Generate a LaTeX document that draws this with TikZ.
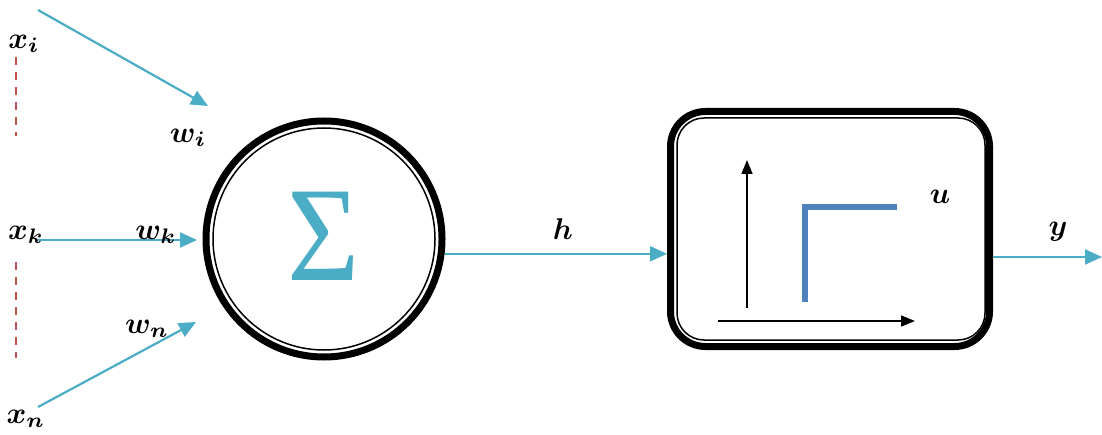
\documentclass[tikz,border=0pt]{standalone}
\usepackage{fontspec}
\newfontfamily\sigfont{Liberation Serif}
\usetikzlibrary{arrows.meta}
\definecolor{teal1}{RGB}{75,172,198}
\definecolor{red1}{RGB}{192,80,77}
\definecolor{blue1}{RGB}{79,129,189}
\newcommand{\biglbl}[1]{\scalebox{3}{\boldmath$#1$}}
\begin{document}
\begin{tikzpicture}[x=1pt,y=-1pt,
  inarrow/.style={teal1, line width=2.2pt, -{Triangle[length=17pt,width=15pt]}},
  axarrow/.style={black, line width=1.5pt, -{Triangle[length=14pt,width=11pt]}},
  lbl/.style={inner sep=0pt},
  dashline/.style={red1, line width=2pt, dash pattern=on 8pt off 7pt}]
\useasboundingbox (0,0) rectangle (1102,435);
% summation node
\node[circle, draw, line width=7pt, minimum size=236pt, inner sep=0pt] (sum) at (324,239) {};
\draw[line width=1.5pt] (sum.center) circle (111pt);
\node[text=teal1, inner sep=0pt] (sig) at (324,236) {\scalebox{0.92}[1]{\sigfont\fontsize{135}{135}\selectfont Σ}};
% activation box
\node[draw, rounded corners=35pt, line width=7pt, minimum width=319pt, minimum height=235pt, inner sep=0pt] (act) at (830,229) {};
\node[draw, rounded corners=27pt, line width=1.5pt, minimum width=308pt, minimum height=222pt, inner sep=0pt] (actin) at (831,229) {};
\coordinate (vax0) at (747,308);
\coordinate (vax1) at (747,160);
\coordinate (hax0) at (718,321);
\coordinate (hax1) at (915,321);
\draw[axarrow] (vax0) -- (vax1);
\draw[axarrow] (hax0) -- (hax1);
\coordinate (st0) at (805,302);
\coordinate (st1) at (805,207);
\coordinate (st2) at (897,207);
\draw[blue1, line width=6pt] (st0) -- (st1) -- (st2);
\node[lbl] (u) at (940,197) {\biglbl{u}};
% connections
\draw[inarrow] (sum.-7) -- (sum.-7 -| act.west);
\node[lbl] (h) at (563,229) {\biglbl{h}};
\coordinate (yend) at (1102,257);
\draw[inarrow] (act.east |- yend) -- (yend);
\node[lbl] (y) at (1058,232) {\biglbl{y}};
% inputs
\node[lbl] (x1) at (24,44) {\biglbl{x_i}};
\node[lbl] (xk) at (26,235) {\biglbl{x_k}};
\node[lbl] (xn) at (26,419) {\biglbl{x_n}};
\coordinate (s1) at (38,10);
\coordinate (e1) at (208,106);
\coordinate (s2) at (38,240);
\coordinate (e2) at (197,240);
\coordinate (s3) at (38,407);
\coordinate (e3) at (196,322);
\draw[inarrow] (s1) -- (e1);
\draw[inarrow] (s2) -- (e2);
\draw[inarrow] (s3) -- (e3);
\node[lbl] (w1) at (188,138) {\biglbl{w_i}};
\node[lbl] (wk) at (156,235) {\biglbl{w_k}};
\node[lbl] (wn) at (147,329) {\biglbl{w_n}};
\coordinate (d1a) at (16,57);
\coordinate (d1b) at (16,136);
\coordinate (d2a) at (16,262);
\coordinate (d2b) at (16,358);
\draw[dashline] (d1a) -- (d1b);
\draw[dashline] (d2a) -- (d2b);
\end{tikzpicture}
\end{document}
